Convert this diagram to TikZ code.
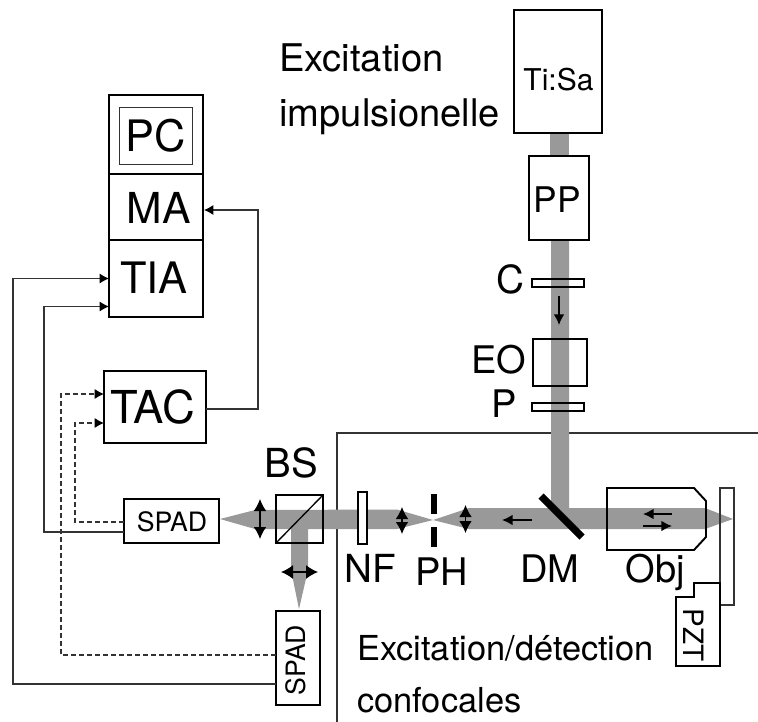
\documentclass[tikz,border=0pt]{standalone}
\usepackage{fontspec}
\setmainfont{TeX Gyre Heros}
\usetikzlibrary{arrows.meta,calc}
\definecolor{beamgray}{HTML}{999999}
\definecolor{wiregray}{HTML}{333333}
\tikzset{
  box/.style={draw=black,line width=1.45pt,inner sep=0pt,outer sep=0pt},
  plate/.style={draw=black,line width=1.45pt},
  beam/.style={fill=beamgray,draw=none},
  conn/.style={draw=wiregray,line width=.85pt,-{Latex[length=7pt,width=7.5pt,black]}},
  dconn/.style={conn,dashed,dash pattern=on 3.5pt off 2.5pt},
  dbl/.style={draw=black,line width=1pt,{Latex[length=9pt,width=#1]}-{Latex[length=9pt,width=#1]}},
  flow/.style={draw=black,line width=1.1pt,-{Latex[length=8pt,width=8pt]}},
  txt/.style={inner sep=0pt,anchor=base},
  mid/.style={txt,font=\fontsize{28.5}{28.5}\selectfont},
  small/.style={txt,font=\fontsize{20}{20}\selectfont},
  para/.style={inner sep=0pt,anchor=base west,font=\fontsize{28.6}{28.6}\selectfont},
  parb/.style={inner sep=0pt,anchor=base west,font=\fontsize{25.8}{25.8}\selectfont},
}
\begin{document}
\begin{tikzpicture}[x=.75pt,y=-.75pt]
\useasboundingbox (0,0) rectangle (758,722);
% frame
\draw[wiregray,line width=.85pt] (758,433) -- (337,433) -- (337,722);
% white-filled optics under the beam
\fill[white] (720,488) rectangle (734,605);
\fill[white] (532,279) rectangle (584,287);
\fill[white] (532,403) rectangle (584,411);
% beam
\path[beam] (550,133) rectangle (569,156);
\path[beam] (551,240) -- (569,240) -- (569,508) -- (705,508) -- (733,519) -- (705,529)
  -- (469,529) -- (469,508) -- (551,508) -- cycle;
\path[beam] (469,508) -- (433,520) -- (469,529) -- cycle;
\path[beam] (433,520) -- (397,509.5) -- (255,510) -- (220,519) -- (255,529) -- (291,529)
  -- (291,570) -- (299,609) -- (308,570) -- (308,529) -- (397,529) -- cycle;
% boxes
\node[box,minimum width=88*.75pt,minimum height=123*.75pt] (tisa) at (558,71.5) {};
\node[box,minimum width=60*.75pt,minimum height=84*.75pt] (pp) at (559,198) {};
\node[box,minimum width=94*.75pt,minimum height=79*.75pt] (pcbox) at (156,134.5) {};
\node[box,line width=.7pt,draw=wiregray,minimum width=73*.75pt,minimum height=57*.75pt] (pcin) at (155.5,135.5) {};
\node[box,minimum width=94*.75pt,minimum height=66*.75pt] (ma) at (156,207) {};
\node[box,minimum width=94*.75pt,minimum height=77*.75pt] (tia) at (156,278.5) {};
\node[box,minimum width=102*.75pt,minimum height=72*.75pt] (tac) at (155,407) {};
\node[box,minimum width=95*.75pt,minimum height=44*.75pt] (spadA) at (171.5,521) {};
\node[box,minimum width=44*.75pt,minimum height=94*.75pt] (spadB) at (298,658) {};
\node[box,minimum width=47*.75pt,minimum height=48*.75pt] (bs) at (299.5,519) {};
\node[box,fill=white,minimum width=9*.75pt,minimum height=52*.75pt] (nf) at (362.5,518) {};
\node[box,minimum width=54*.75pt,minimum height=47*.75pt] (eo) at (560,362.5) {};
\node[box,minimum width=52*.75pt,minimum height=8*.75pt] (c) at (558,283) {};
\node[box,minimum width=52*.75pt,minimum height=8*.75pt] (p) at (558,407) {};
\node[box,line width=1.1pt,draw=wiregray,minimum width=14*.75pt,minimum height=117*.75pt] (sample) at (727,546.5) {};
% beam splitter diagonal
\draw[black,line width=1pt] (bs.south west) -- (bs.north east);
% pinhole
\fill[black] (431,494) rectangle (437,514);
\fill[black] (431,527) rectangle (437,547);
% dichroic mirror
\draw[black,line width=5.5pt] (541,496) -- (582,537);
% objective
\draw[plate] (607,488) -- (694,488) -- (706,501) -- (706,537) -- (694,550) -- (607,550) -- cycle;
% PZT
\draw[plate] (694,583) -- (720,583) -- (720,666) -- (676,666) -- (676,597) -- (694,597) -- cycle;
% optical arrows
\draw[dbl=9.5pt] (260,499) -- (260,539);
\draw[dbl=9.5pt] (402,507) -- (402,534);
\draw[dbl=9.5pt] (465.5,505) -- (465.5,533);
\draw[dbl=10.5pt] (281,572) -- (318,572);
\draw[flow] (559,296) -- (559,325);
\draw[flow] (532,520) -- (502,520);
\draw[flow] (672,514) -- (643,514);
\draw[flow] (643,526) -- (672,526);
% electrical connectors
\draw[conn] (tac.east) ++(0,2) -- ++(52,0) |- ($(ma.east)+(1,3)$);
\draw[conn] ($(spadB.west)+(0,26)$) -- ++(-263,0) |- (tia.west);
\draw[conn] ($(spadA.west)+(0,11)$) -- ++(-80,0) |- ($(tia.west)+(0,28)$);
\draw[dconn] ($(spadA.west)+(0,1)$) -- ++(-49,0) |- ($(tac.west)+(0,16)$);
\draw[dconn] ($(spadB.west)+(0,-3)$) -- ++(-215,0) |- ($(tac.west)+(0,-13)$);
% labels
\node[para] (t1) at (279,71) {Excitation};
\node[para] (t2) at (279,126) {impulsionelle};
\node[parb] (t3) at (357,660) {Excitation/détection};
\node[parb] (t4) at (357,712) {confocales};
\node[txt,font=\fontsize{32.5}{32.5}\selectfont] (lpc) at (156,151) {PC};
\node[txt,font=\fontsize{32}{32}\selectfont] (lma) at (158.5,223) {MA};
\node[txt,font=\fontsize{32.5}{32.5}\selectfont] (ltia) at (154,293) {TIA};
\node[txt,font=\fontsize{34}{34}\selectfont] (ltac) at (152.5,423) {TAC};
\node[small] (lsa) at (172,531) {SPAD};
\node[small,rotate=90] (lsb) at (305,660) {SPAD};
\node[txt,font=\fontsize{22.5}{22.5}\selectfont] (lti) at (558.5,90) {Ti:Sa};
\node[txt,font=\fontsize{26.5}{26.5}\selectfont] (lpp) at (557.5,212) {PP};
\node[txt,font=\fontsize{30}{30}\selectfont] (lbs) at (291,477) {BS};
\node[txt,font=\fontsize{29}{29}\selectfont] (lnf) at (370,582) {NF};
\node[mid] (lph) at (441.5,585) {PH};
\node[mid] (ldm) at (550,582) {DM};
\node[mid] (lobj) at (655,582) {Obj};
\node[txt,font=\fontsize{29}{29}\selectfont] (lc) at (510,293) {C};
\node[mid] (leo) at (498.5,373) {EO};
\node[mid] (lp) at (504,417) {P};
\node[txt,rotate=-90,font=\fontsize{21}{21}\selectfont] (lpzt) at (683,635) {PZT};
\end{tikzpicture}
\end{document}
